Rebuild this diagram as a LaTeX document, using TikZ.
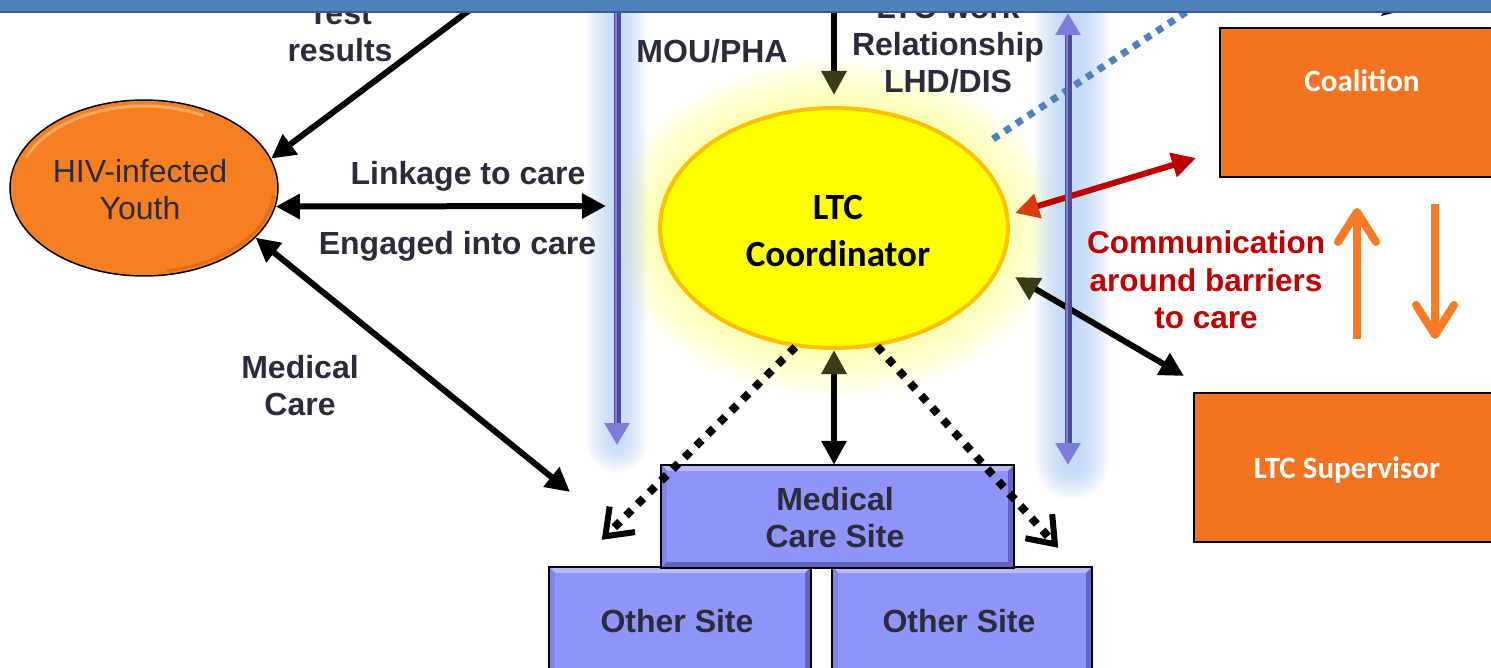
\documentclass[tikz,border=0pt]{standalone}
\usepackage{fontspec}
\setmainfont{Liberation Sans}
\newfontfamily\calibfont{Carlito}
\usetikzlibrary{arrows.meta,shapes.geometric,calc}

\definecolor{barblue}{HTML}{4F81BD}
\definecolor{bardark}{HTML}{385D8A}
\definecolor{labelc}{HTML}{2B2B3B}
\definecolor{hivorange}{HTML}{F67F21}
\definecolor{hivlight}{HTML}{FBB36E}
\definecolor{hivdark}{HTML}{C85E10}
\definecolor{boxorange}{HTML}{F47320}
\definecolor{ltcyellow}{HTML}{FFFF00}
\definecolor{ltcrim}{HTML}{FFC000}
\definecolor{ltcglow}{HTML}{FFFF8C}
\definecolor{sitefill}{HTML}{8F94F8}
\definecolor{sitelight}{HTML}{B6BAFF}
\definecolor{sitemid}{HTML}{7F84E6}
\definecolor{sitedark}{HTML}{6064C4}
\definecolor{shaftblue}{HTML}{4C4C9A}
\definecolor{shaftlight}{HTML}{7E7ED2}
\definecolor{headblue}{HTML}{7C7CDC}
\definecolor{glowblue}{HTML}{A6C8F2}
\definecolor{commred}{HTML}{C00000}
\definecolor{redtip}{HTML}{D63C0C}
\definecolor{olivetip}{HTML}{3A3A14}
\definecolor{arrorange}{HTML}{F87A22}

\begin{document}
\begin{tikzpicture}[x=1pt,y=-1pt,
  lbl/.style={font=\bfseries\fontsize{32}{37}\selectfont, text=labelc, align=center, inner sep=0pt},
  whitelbl/.style={font=\calibfont\bfseries\fontsize{31}{37}\selectfont, text=white, inner sep=0pt},
  blk/.style={draw=black, line width=6pt},
  tipend/.style={arrows={-Triangle[width=24pt,length=24pt]}},
  tipboth/.style={arrows={Triangle[width=24pt,length=24pt]-Triangle[width=24pt,length=24pt]}},
  dotarr/.style={draw=black, line width=8pt, dash pattern=on 8pt off 8.5pt,
    arrows={-Straight Barb[length=24pt,width=36pt,line width=6pt]}},
  orarr/.style={draw=arrorange, line width=8pt,
    arrows={-Straight Barb[length=30pt,width=38pt,round,line width=8pt]}},
  vshaft/.style={draw=shaftblue, line width=7pt},
  sitebox/.style={rectangle, fill=sitefill, inner sep=0pt},
  obox/.style={rectangle, fill=boxorange, draw=black, line width=2pt, inner sep=0pt},
]
\useasboundingbox (0,0) rectangle (1491,668);
\clip (0,0) rectangle (1491,668);

% soft halo round the coordinator
\foreach \r in {50,45,...,5}{
  \fill[ltcglow, opacity=0.09] (834,228) ellipse [x radius={174pt+\r pt}, y radius={120pt+\r pt}];
}
% soft halos round the two long vertical arrows
\foreach \w in {60,54,...,6}{
  \draw[glowblue, line width=\w pt, opacity=0.10, line cap=round] (617,-5) -- (617,442);
  \draw[glowblue, line width={\w pt+14pt}, opacity=0.10, line cap=round] (1072,-5) -- (1072,462);
}

% main nodes
\node[ellipse, draw=black, line width=1.5pt, fill=hivorange, minimum width=268pt, minimum height=176pt,
      inner sep=0pt] (hiv) at (144,188) {};
\draw[hivlight, line width=3pt, opacity=0.8] ([shift={(158:127pt and 82pt)}]hiv.center)
  arc[start angle=158, end angle=62, x radius=127pt, y radius=82pt];
\draw[hivdark, line width=3pt, opacity=0.5] ([shift={(-5:130pt and 84pt)}]hiv.center)
  arc[start angle=-5, end angle=-80, x radius=130pt, y radius=84pt];
\node[font=\fontsize{32}{37}\selectfont, text=labelc, align=center, inner sep=0pt] (hivt) at (140,190) {HIV-infected\\Youth};

\node[ellipse, draw=ltcrim, line width=4pt, fill=ltcyellow, minimum width=348pt, minimum height=240pt,
      inner sep=0pt] (ltc) at (834,228) {};
\node[font=\calibfont\bfseries\fontsize{37}{47}\selectfont, align=center, inner sep=0pt] (ltct) at (838,231) {LTC\\Coordinator};

% care sites
\node[sitebox, minimum width=262pt, minimum height=108pt] (os1) at (680,621) {};
\node[sitebox, minimum width=260pt, minimum height=108pt] (os2) at (962,621) {};
\node[sitebox, minimum width=353pt, minimum height=103pt] (mcs) at (837.5,516.5) {};
\foreach \n in {os1,os2,mcs}{
  \fill[sitelight] (\n.north west) -- (\n.north east) -- ($(\n.north east)+(-6,6)$) -- ($(\n.north west)+(6,6)$) -- cycle;
  \fill[sitemid] (\n.north west) -- ($(\n.north west)+(6,6)$) -- ($(\n.south west)+(6,-6)$) -- (\n.south west) -- cycle;
  \fill[sitedark] (\n.north east) -- ($(\n.north east)+(-6,6)$) -- ($(\n.south east)+(-6,-6)$) -- (\n.south east) -- cycle;
  \fill[sitedark] (\n.south west) -- (\n.south east) -- ($(\n.south east)+(-6,-6)$) -- ($(\n.south west)+(6,-6)$) -- cycle;
  \draw[black, line width=2.5pt] (\n.north west) rectangle (\n.south east);
}
\node[lbl] (os1t) at (677,621) {Other Site};
\node[lbl] (os2t) at (959,621) {Other Site};
\node[lbl] (mcst) at (835,517.5) {Medical\\Care Site};

% partner boxes
\node[obox, minimum width=280pt, minimum height=149pt] (coal) at (1360,102.5) {};
\node[whitelbl, anchor=base] (coalt) at (1362,92) {Coalition};
\node[obox, minimum width=306pt, minimum height=149pt] (sup) at (1347,467.5) {};
\node[whitelbl, anchor=base] (supt) at (1347,478) {LTC Supervisor};

% free ends of connectors
\coordinate (trTop) at (487,-3);
\coordinate (lkR) at (606,206);
\coordinate (mcL) at (570,492);
\coordinate (lwT) at (834,-3);
\coordinate (bdA) at (993,139);
\coordinate (bdB) at (1212,-5);
\coordinate (vlT) at (617,-5);
\coordinate (vlB) at (617,445);
\coordinate (vrT) at (1068,13);
\coordinate (vrB) at (1068,465);

% connectors
\draw[blk, tipend] (trTop) -- (hiv.13);
\draw[blk, tipboth] (hiv.-8) -- (lkR);
\draw[blk, tipboth] (hiv.-24) -- (mcL);
\draw[blk, arrows={-Triangle[width=24pt,length=24pt,color=olivetip]}] (lwT) -- ($(ltc.north)+(0,-11)$);
\draw[blk, arrows={Triangle[width=24pt,length=24pt,color=olivetip]-Triangle[width=24pt,length=24pt]}]
  (ltc.south) -- (ltc.south |- mcs.north);
\draw[draw=commred, line width=6pt, arrows={Triangle[width=24pt,length=24pt,color=redtip]-Triangle[width=24pt,length=24pt]}]
  ($(ltc.east)+(5,-15)$) -- ($(coal.south west)+(-23,-20)$);
\draw[blk, arrows={Triangle[width=24pt,length=24pt,color=olivetip]-Triangle[width=24pt,length=24pt]}]
  ($(ltc.east)+(5,49)$) -- ($(sup.north west)+(-9,-16)$);
\draw[dotarr] (ltc.252) -- ($(os1.north west)+(53,-27)$);
\draw[dotarr] (ltc.290) -- ($(os2.north east)+(-34,-19)$);
\draw[orarr] ($(sup.north)+(10,-53)$) -- ($(coal.south)+(-3,30)$);
\draw[orarr] ($(coal.south)+(75,26)$) -- ($(sup.north)+(88,-53)$);
\draw[draw=barblue, line width=7pt, dash pattern=on 7pt off 7pt] (bdA) -- (bdB);

% long vertical arrows
\draw[vshaft, arrows={-Triangle[width=24pt,length=22pt,color=headblue]}] (vlT) -- (vlB);
\draw[shaftlight, line width=2pt, shorten >=22pt] ([xshift=-1pt]vlT) -- ([xshift=-1pt]vlB);
\draw[vshaft, arrows={Triangle[width=24pt,length=22pt,color=headblue]-Triangle[width=24pt,length=22pt,color=headblue]}] (vrT) -- (vrB);
\draw[shaftlight, line width=2pt, shorten >=22pt, shorten <=22pt] ([xshift=-1pt]vrT) -- ([xshift=-1pt]vrB);

% labels
\node[lbl] (trl) at (340,32.5) {Test\\results};
\node[lbl, anchor=base] (moul) at (712,63) {MOU/PHA};
\node[lbl] (lwl) at (948,44) {LTC work\\Relationship\\LHD/DIS};
\node[lbl, anchor=base] (lkl) at (468,185) {Linkage to care};
\node[lbl, anchor=base] (eil) at (457.5,255) {Engaged into care};
\node[lbl] (mcl) at (300,385.5) {Medical\\Care};
\node[lbl, text=commred, font=\bfseries\fontsize{31.5}{37.5}\selectfont] (coml) at (1206,280) {Communication\\around barriers\\to care};

% banner along the top edge
\fill (1381,16) -- (1395,12.5) -- (1383,12.5) -- cycle;
\fill[barblue] (0,-2) rectangle (1491,11);
\draw[bardark, line width=2pt] (0,12) -- (1491,12);
\end{tikzpicture}
\end{document}
